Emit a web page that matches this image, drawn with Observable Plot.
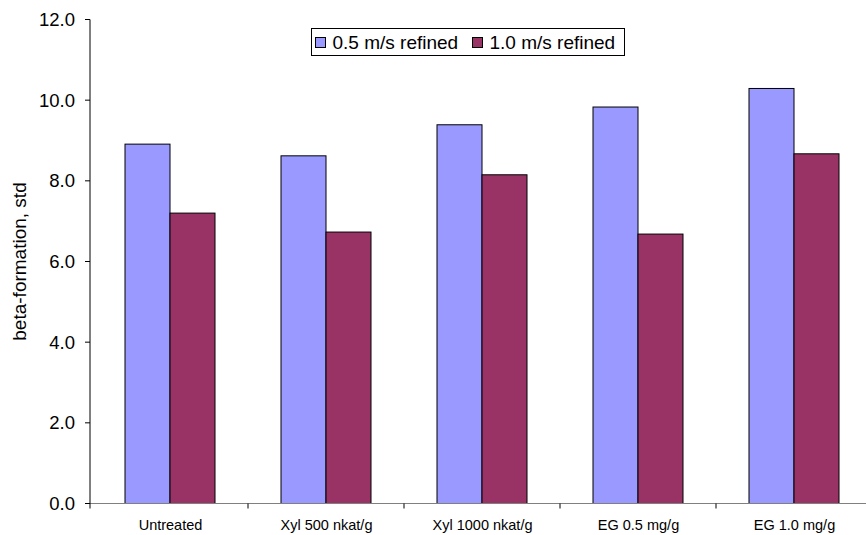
<!DOCTYPE html>
<html>
<head>
<meta charset="utf-8">
<script src="https://cdn.jsdelivr.net/npm/d3@7"></script>
<script src="https://cdn.jsdelivr.net/npm/@observablehq/plot@0.6"></script>
<style>
  html, body { margin: 0; padding: 0; background: #fff; }
  #chart { width: 866px; height: 535px; overflow: hidden; }
</style>
</head>
<body>
<div id="chart"></div>
<script>
const categories = ["Untreated", "Xyl 500 nkat/g", "Xyl 1000 nkat/g", "EG 0.5 mg/g", "EG 1.0 mg/g"];
const series = ["0.5 m/s refined", "1.0 m/s refined"];
const values05 = [8.91, 8.62, 9.39, 9.83, 10.29];
const values10 = [7.20, 6.73, 8.15, 6.68, 8.67];
const colors = ["#9999FF", "#993366"];
const yTicks = [0, 2, 4, 6, 8, 10, 12];
const yLabel = "beta-formation, std";

const data = categories.flatMap((c, i) => [
  {category: c, series: series[0], value: values05[i]},
  {category: c, series: series[1], value: values10[i]}
]);

const FONT = "'Liberation Sans', Arial, sans-serif";

const chart = Plot.plot({
  width: 866,
  height: 535,
  marginLeft: 90,
  marginRight: -8,
  marginTop: 19.5,
  marginBottom: 31.5,
  style: {fontFamily: FONT, background: "#fff", color: "#000"},
  fx: {domain: categories, range: [90, 874], paddingInner: 0.426, paddingOuter: 0.213, align: 0.5, label: null, axis: null},
  x: {domain: series, padding: 0, axis: null},
  y: {domain: [0, 12], axis: null},
  color: {domain: series, range: colors},
  marks: [
    Plot.barY(data, {fx: "category", x: "series", y: "value", fill: "series", stroke: "#000", strokeWidth: 1, inset: 0}),
    Plot.axisFx({anchor: "bottom", tickSize: 0, tickPadding: 16, fontSize: 14.5, label: null})
  ]
});

document.getElementById("chart").appendChild(chart);

const svg = d3.select(chart);
const y = chart.scale("y");
const fx = chart.scale("fx");
const color = chart.scale("color");
const y0 = y.apply(0);
const yTop = y.apply(12);
const xLeft = 90;
const step = fx.step;
const gap = step - fx.bandwidth;

// x axis baseline (gray) and category boundary ticks
svg.append("line").attr("x1", xLeft).attr("x2", 880).attr("y1", y0).attr("y2", y0)
  .attr("stroke", "#808080").attr("stroke-width", 1);
categories.forEach((c, i) => {
  const xb = fx.apply(c) - gap / 2;
  if (i > 0) svg.append("line").attr("x1", xb).attr("x2", xb).attr("y1", y0).attr("y2", y0 + 5)
    .attr("stroke", "#000").attr("stroke-width", 1);
});

// y axis
const gy = svg.append("g");
gy.append("line").attr("x1", xLeft).attr("x2", xLeft).attr("y1", yTop).attr("y2", y0 + 5)
  .attr("stroke", "#000").attr("stroke-width", 1);
yTicks.forEach(t => {
  const yy = y.apply(t);
  gy.append("line").attr("x1", xLeft - 5).attr("x2", xLeft).attr("y1", yy).attr("y2", yy)
    .attr("stroke", "#000").attr("stroke-width", 1);
  gy.append("text").attr("x", xLeft - 15).attr("y", yy).attr("dy", "0.35em")
    .attr("text-anchor", "end").attr("font-size", 18.5).attr("font-family", FONT).attr("fill", "#000")
    .text(t.toFixed(1));
});

// y label
svg.append("text")
  .attr("transform", `translate(26,${(y0 + yTop) / 2}) rotate(-90)`)
  .attr("text-anchor", "middle").attr("font-size", 19).attr("font-family", FONT).attr("fill", "#000")
  .text(yLabel);

// legend
const lg = svg.append("g");
lg.append("rect").attr("x", 311.5).attr("y", 28.5).attr("width", 313).attr("height", 27)
  .attr("fill", "#fff").attr("stroke", "#000").attr("stroke-width", 1);
const legendX = [315.5, 472.5];
color.domain.forEach((s, i) => {
  lg.append("rect").attr("x", legendX[i]).attr("y", 37.5).attr("width", 10).attr("height", 10)
    .attr("fill", color.range[i]).attr("stroke", "#000").attr("stroke-width", 1);
  lg.append("text").attr("x", legendX[i] + 17).attr("y", 42).attr("dy", "0.35em")
    .attr("text-anchor", "start")
    .attr("font-size", 19).attr("font-family", FONT).attr("fill", "#000").text(s);
});
</script>
</body>
</html>
